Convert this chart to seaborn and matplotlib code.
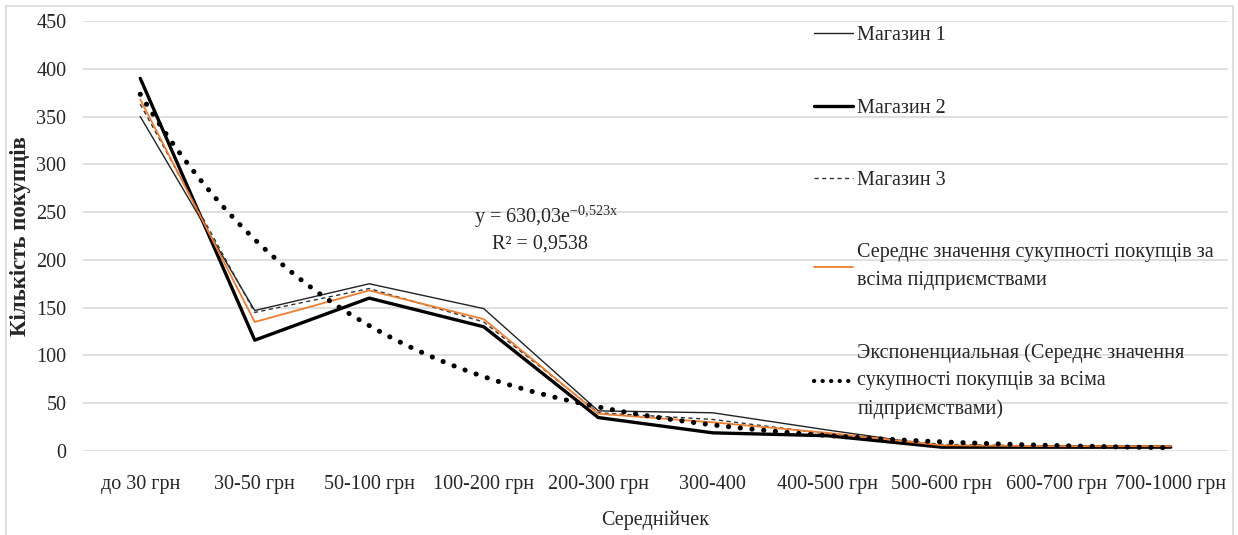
import numpy as np
import pandas as pd
import matplotlib
matplotlib.use("Agg")
import matplotlib.pyplot as plt
from matplotlib.patches import Rectangle
from matplotlib.lines import Line2D
import seaborn as sns

categories = ["до 30 грн", "30-50 грн", "50-100 грн", "100-200 грн", "200-300 грн",
              "300-400", "400-500 грн", "500-600 грн", "600-700 грн", "700-1000 грн"]
store1 = [350, 147, 175, 149, 42, 40, 22, 5, 5, 5]
store2 = [390, 116, 160, 130, 35, 19, 16, 4, 4, 4]
store3 = [363, 145, 170, 135, 40, 33, 18, 7, 5, 5]
average = [368, 135, 168, 138, 39, 30, 19, 6, 5, 5]
trend_a = 630.03
trend_b = -0.523
eq_text = r"y = 630,03e$^{\mathrm{-0{,}523x}}$"
r2_text = "R² = 0,9538"

names = ["Магазин 1", "Магазин 2", "Магазин 3",
         "Середнє значення сукупності покупців за\nвсіма підприємствами",
         "Экспоненциальная (Середнє значення\nсукупності покупців за всіма\nпідприємствами)"]

sns.set_theme(style="white")
plt.rcParams['font.family'] = ['Liberation Serif', 'DejaVu Serif']
plt.rcParams['mathtext.fontset'] = 'custom'
plt.rcParams['mathtext.rm'] = 'Liberation Serif'
plt.rcParams['mathtext.it'] = 'Liberation Serif:italic'
FS = 14.5

fig = plt.figure(figsize=(12.38, 5.35), dpi=100)
ax = fig.add_axes([83/1238, 1-451/535, (1228-83)/1238, (451-21)/535])

pos = np.arange(len(categories))
df = pd.DataFrame({"pos": pos, "s1": store1, "s2": store2, "s3": store3, "avg": average})

sns.lineplot(data=df, x="pos", y="s1", ax=ax, color="#222222", lw=1.0)
sns.lineplot(data=df, x="pos", y="s2", ax=ax, color="black", lw=2.4)
sns.lineplot(data=df, x="pos", y="s3", ax=ax, color="#333333", lw=1.0, dashes=False,
             linestyle=(0, (3, 2.5)))
sns.lineplot(data=df, x="pos", y="avg", ax=ax, color="#ED7D31", lw=1.3)

t = np.linspace(1, len(categories), 300)
tdf = pd.DataFrame({"pos": t - 1, "val": trend_a * np.exp(trend_b * t)})
tl = sns.lineplot(data=tdf, x="pos", y="val", ax=ax, color="black", lw=3.6)
tl.lines[-1].set_linestyle((0, (0.05, 2.3)))
tl.lines[-1].set_dash_capstyle("round")

ax.set_xlim(-0.5, len(categories) - 0.5)
ax.set_ylim(0, 450)
ax.set_yticks(np.arange(0, 451, 50))
ax.set_xticks(pos)
ax.set_xticklabels(categories, fontsize=FS)
ax.tick_params(axis="y", labelsize=FS, length=0, pad=12)
ax.tick_params(axis="x", length=0, pad=17)
ax.grid(axis="y", color="#d9d9d9", lw=1.2)
ax.grid(axis="x", visible=False)
for s in ax.spines.values():
    s.set_visible(False)

ax.set_xlabel("Середнійчек", fontsize=FS, labelpad=12)
ax.set_ylabel("Кількість покупців", fontsize=16.5, fontweight="bold", labelpad=4)

ax.text(3.55, 245, eq_text, fontsize=FS, ha="center", va="center")
ax.text(3.49, 217, r2_text, fontsize=FS, ha="center", va="center")

handles = [Line2D([], [], color="#222222", lw=1.0),
           Line2D([], [], color="black", lw=2.4),
           Line2D([], [], color="#333333", lw=1.0, linestyle=(0, (3, 2.5))),
           Line2D([], [], color="#ED7D31", lw=1.3),
           Line2D([], [], color="black", lw=3.0, linestyle=(0, (0.05, 2.0)),
                  dash_capstyle="round")]
leg = ax.legend(handles, names, loc="upper left", bbox_to_anchor=(814/1238, 1-26/535),
                bbox_transform=fig.transFigure, frameon=False, fontsize=FS,
                handlelength=1.95, handletextpad=0.2, labelspacing=2.65,
                borderaxespad=0, borderpad=0)
for txt in leg.get_texts():
    txt.set_linespacing(1.6)

fig.patches.append(Rectangle((6/1238, -0.02), (1233-6)/1238, 1.02 - 6/535,
                             transform=fig.transFigure, fill=False,
                             edgecolor="#d9d9d9", lw=1.2))

fig.savefig("out.png", dpi=100)
